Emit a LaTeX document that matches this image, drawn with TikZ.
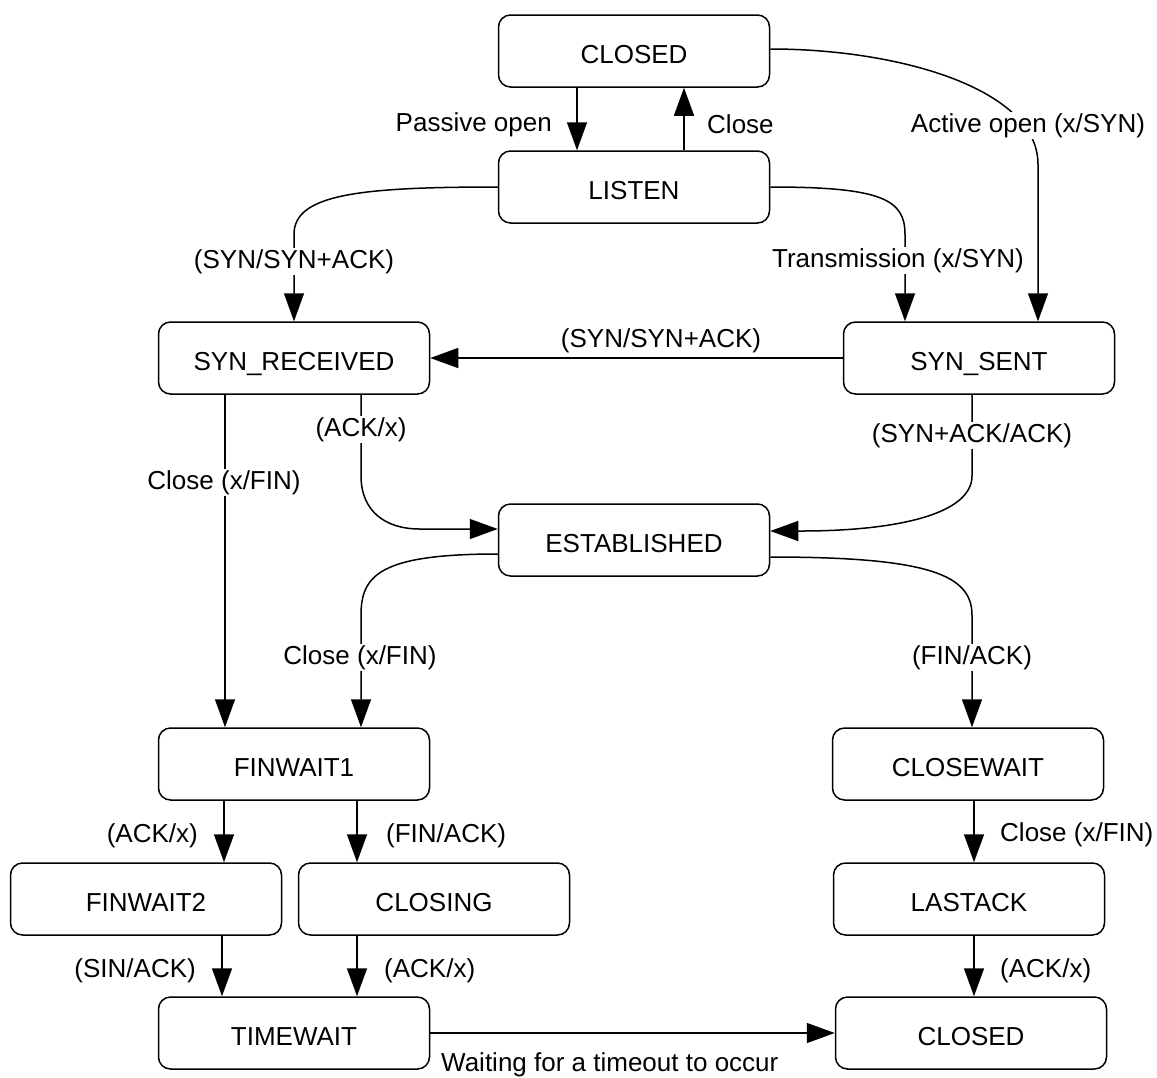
\documentclass[tikz,border=0pt]{standalone}
\usepackage{fontspec}
\setmainfont{Liberation Sans}
\usetikzlibrary{arrows.meta}
\begin{document}
\begin{tikzpicture}[x=1pt,y=-1pt,
  state/.style={draw, line width=1.5pt, rounded corners=12pt, minimum width=271pt, minimum height=72pt, inner sep=0pt, text height=24.6pt, text depth=0pt, font=\fontsize{26}{30}\selectfont},
  lbl/.style={inner sep=1pt, font=\fontsize{26}{30}\selectfont},
  onl/.style={lbl, fill=white},
  arr/.style={line width=1.5pt, -{Triangle[length=28pt,width=20pt]}}]
\useasboundingbox[fill=white] (0,0) rectangle (1157,1077);

\node[state] (closedT) at (634,51) {CLOSED};
\node[state] (listen) at (634,187) {LISTEN};
\node[state] (synrcv) at (294,358) {SYN\_RECEIVED};
\node[state] (synsent) at (979,358) {SYN\_SENT};
\node[state] (estab) at (634,540) {ESTABLISHED};
\node[state] (fin1) at (294,764) {FINWAIT1};
\node[state] (closewait) at (968,764) {CLOSEWAIT};
\node[state] (fin2) at (146,899) {FINWAIT2};
\node[state] (closing) at (434,899) {CLOSING};
\node[state] (lastack) at (969,899) {LASTACK};
\node[state] (timewait) at (294,1033) {TIMEWAIT};
\node[state] (closedB) at (971,1033) {CLOSED};

\draw[arr] ([xshift=-57pt]closedT.south) -- ([xshift=-57pt]listen.north);
\draw[arr] ([xshift=50pt]listen.north) -- ([xshift=50pt]closedT.south);
\draw[arr] ([yshift=2pt]closedT.east) .. controls +(130,0) and +(0,-75) .. ([xshift=59pt,yshift=157pt]synsent.north) -- ([xshift=59pt]synsent.north);
\draw[arr] (listen.east) .. controls +(111,0) and +(0,-35) .. ([xshift=-74pt,yshift=87pt]synsent.north) -- ([xshift=-74pt]synsent.north);
\draw[arr] (listen.west) .. controls +(-138,0) and +(0,-40) .. ([yshift=87pt]synrcv.north) -- (synrcv.north);
\draw[arr] (synsent.west) -- (synrcv.east);
\draw[arr] ([xshift=67pt]synrcv.south) -- ++(0,81) .. controls +(0,35) and +(-35,0) .. ([xshift=-78pt,yshift=11pt]estab.west) -- ([yshift=11pt]estab.west);
\draw[arr] ([xshift=-7pt]synsent.south) -- ++(0,81) .. controls +(0,40) and +(90,0) .. ([xshift=31pt,yshift=9pt]estab.east) -- ([yshift=9pt]estab.east);
\draw[arr] ([yshift=-14pt]estab.west) .. controls +(-118,0) and +(0,-40) .. ([xshift=67pt,yshift=112pt]fin1.north) -- ([xshift=67pt]fin1.north);
\draw[arr] ([yshift=-17pt]estab.east) .. controls +(160,0) and +(0,-40) .. ([xshift=4pt,yshift=112pt]closewait.north) -- ([xshift=4pt]closewait.north);
\draw[arr] ([xshift=-69pt]synrcv.south) -- ([xshift=-69pt]fin1.north);
\draw[arr] ([xshift=-70pt]fin1.south) -- ([xshift=78pt]fin2.north);
\draw[arr] ([xshift=63pt]fin1.south) -- ([xshift=-77pt]closing.north);
\draw[arr] ([xshift=76pt]fin2.south) -- ([xshift=-72pt]timewait.north);
\draw[arr] ([xshift=-77pt]closing.south) -- ([xshift=63pt]timewait.north);
\draw[arr] (timewait.east) -- (closedB.west);
\draw[arr] ([xshift=6pt]closewait.south) -- ([xshift=5pt]lastack.north);
\draw[arr] ([xshift=5pt]lastack.south) -- ([xshift=3pt]closedB.north);

\node[lbl, anchor=east] (lPassive) at (553,124.5) {Passive open};
\node[lbl, anchor=west] (lClose) at (706,124.5) {Close};
\node[onl] (lActive) at (1028,125.5) {Active open (x/SYN)};
\node[onl] (lTrans) at (898,260.5) {Transmission (x/SYN)};
\node[onl] (lSynL) at (294,261.5) {(SYN/SYN+ACK)};
\node[lbl] (lSynH) at (661,340.5) {(SYN/SYN+ACK)};
\node[onl] (lAckX) at (361,429.5) {(ACK/x)};
\node[onl] (lSynAck) at (972,435.5) {(SYN+ACK/ACK)};
\node[onl] (lCloseL) at (224,482.5) {Close (x/FIN)};
\node[onl] (lCloseM) at (360,657.5) {Close (x/FIN)};
\node[onl] (lFinAck) at (972,657.5) {(FIN/ACK)};
\node[lbl, anchor=east] (lAck1) at (199,835.5) {(ACK/x)};
\node[lbl, anchor=west] (lFin1) at (385,835.5) {(FIN/ACK)};
\node[lbl, anchor=east] (lSin) at (197,970.5) {(SIN/ACK)};
\node[lbl, anchor=west] (lAck2) at (383,970.5) {(ACK/x)};
\node[lbl, anchor=west] (lCloseR) at (999,834.5) {Close (x/FIN)};
\node[lbl, anchor=west] (lAck3) at (999,970.5) {(ACK/x)};
\node[lbl, anchor=west] (lWait) at (440,1065) {Waiting for a timeout to occur};
\end{tikzpicture}
\end{document}
